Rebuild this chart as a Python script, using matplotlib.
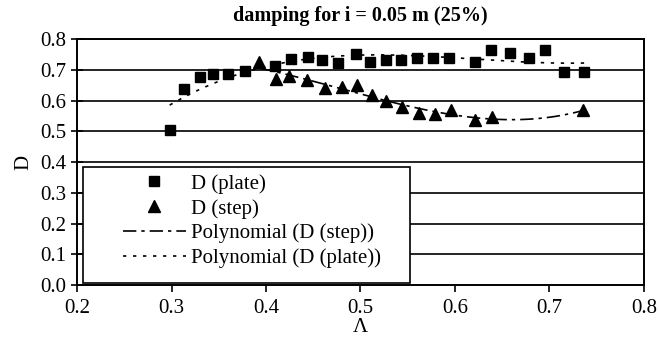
import numpy as np
import matplotlib
matplotlib.use("Agg")
import matplotlib.pyplot as plt
from matplotlib.patches import Rectangle

# D (plate) - squares
plate_x = [0.298, 0.313, 0.330, 0.344, 0.360, 0.378, 0.410, 0.426, 0.444, 0.459,
           0.476, 0.495, 0.510, 0.527, 0.543, 0.560, 0.577, 0.594, 0.621, 0.638,
           0.658, 0.678, 0.695, 0.715, 0.737]
plate_d = [0.505, 0.638, 0.677, 0.688, 0.688, 0.695, 0.713, 0.735, 0.742, 0.733,
           0.722, 0.752, 0.727, 0.733, 0.733, 0.738, 0.738, 0.738, 0.727, 0.763,
           0.755, 0.738, 0.765, 0.693, 0.693]

# D (step) - triangles
step_x = [0.393, 0.411, 0.424, 0.443, 0.462, 0.480, 0.496, 0.512, 0.527, 0.544,
          0.562, 0.579, 0.596, 0.621, 0.639, 0.736]
step_d = [0.725, 0.670, 0.679, 0.668, 0.641, 0.644, 0.651, 0.619, 0.600, 0.579,
          0.559, 0.557, 0.568, 0.537, 0.546, 0.568]

plt.rcParams['font.family'] = ['Liberation Serif', 'DejaVu Serif']

fig = plt.figure(figsize=(6.59, 3.49), dpi=100)
ax = fig.add_axes([0.117, 0.183, 0.860, 0.705])

# polynomial trend lines (like the spreadsheet's)
cp = np.polyfit(plate_x, plate_d, 3)
xp = np.linspace(min(plate_x), max(plate_x), 200)
cs = np.polyfit(step_x, step_d, 3)
xs = np.linspace(min(step_x), max(step_x), 200)

for yv in np.arange(0.1, 0.85, 0.1):
    ax.axhline(yv, color='black', lw=1.2, zorder=1)

ax.plot(plate_x, plate_d, 's', color='black', ms=7, zorder=3)
ax.plot(step_x, step_d, '^', color='black', ms=8, zorder=3)
ax.plot(xs, np.polyval(cs, xs), color='black', lw=1.2, ls=(0, (8, 3, 2, 3)), zorder=2)
ax.plot(xp, np.polyval(cp, xp), color='black', lw=1.2, ls=(0, (2, 4)), zorder=2)

ax.set_xlim(0.2, 0.8)
ax.set_ylim(0.0, 0.8)
ax.set_xticks(np.arange(0.2, 0.81, 0.1))
ax.set_yticks(np.arange(0.0, 0.81, 0.1))
ax.set_xticklabels(['%.1f' % v for v in np.arange(0.2, 0.81, 0.1)])
ax.set_yticklabels(['%.1f' % v for v in np.arange(0.0, 0.81, 0.1)])
ax.tick_params(axis='x', direction='out', length=5, width=1.2, labelsize=15, pad=5)
ax.tick_params(axis='y', direction='inout', length=9, width=1.2, labelsize=15, pad=3)
for s in ax.spines.values():
    s.set_linewidth(1.4)

ax.set_xlabel('Λ', fontsize=15, labelpad=0)
ax.set_ylabel('D', fontsize=15, labelpad=5)
ax.set_title('damping for i = 0.05 m (25%)', fontsize=14.5, fontweight='bold', pad=13)

# legend box
frame = Rectangle((0.0106, 0.008), 0.577, 0.472, transform=ax.transAxes,
                  facecolor='white', edgecolor='black', lw=1.2, zorder=4)
ax.add_patch(frame)
h1, = ax.plot([], [], 's', color='black', ms=7)
h2, = ax.plot([], [], '^', color='black', ms=8)
h3, = ax.plot([], [], color='black', lw=1.2, ls=(0, (8, 3, 2, 3)))
h4, = ax.plot([], [], color='black', lw=1.2, ls=(0, (2, 4)))
leg = ax.legend([h1, h2, h3, h4],
                ['D (plate)', 'D (step)', 'Polynomial (D (step))', 'Polynomial (D (plate))'],
                loc='center left', bbox_to_anchor=(0.063, 0.26), frameon=False,
                fontsize=15, handlelength=3.0, handletextpad=0.25, labelspacing=0.25,
                borderpad=0.0)
leg.set_zorder(5)

fig.savefig('out.png', dpi=100)
